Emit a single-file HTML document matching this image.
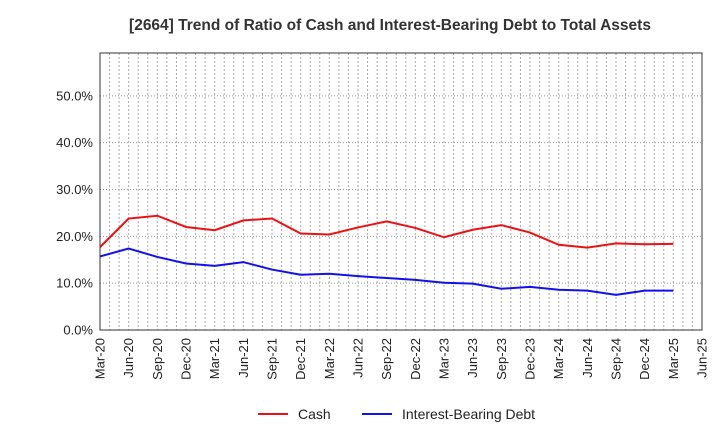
<!DOCTYPE html>
<html><head><meta charset="utf-8"><style>
body{margin:0;background:#fff;font-family:"Liberation Sans",sans-serif}
svg text{font-family:"Liberation Sans",sans-serif}
</style></head><body>
<svg width="720" height="440">
<text x="390" y="30" text-anchor="middle" font-size="15.5" font-weight="bold" fill="#333">[2664]  Trend of Ratio of Cash and Interest-Bearing Debt to Total Assets</text>
<g id="grid"></g><g id="axes"></g><g id="series"></g>
<g>
<line x1="258" y1="414" x2="288" y2="414" stroke="#ee1111" stroke-width="2"/>
<text x="298" y="419" font-size="14" fill="#222">Cash</text>
<line x1="362" y1="414" x2="392" y2="414" stroke="#1111ee" stroke-width="2"/>
<text x="402" y="419" font-size="14" fill="#222">Interest-Bearing Debt</text>
</g>
</svg>
<script>
const categories=["Mar-20","Jun-20","Sep-20","Dec-20","Mar-21","Jun-21","Sep-21","Dec-21","Mar-22","Jun-22","Sep-22","Dec-22","Mar-23","Jun-23","Sep-23","Dec-23","Mar-24","Jun-24","Sep-24","Dec-24","Mar-25","Jun-25"];
const cash=[17.7,23.8,24.4,22.0,21.3,23.4,23.8,20.6,20.4,21.9,23.2,21.8,19.8,21.4,22.4,20.8,18.2,17.6,18.5,18.3,18.4];
const debt=[15.7,17.4,15.6,14.2,13.7,14.5,12.9,11.8,12.0,11.5,11.1,10.7,10.1,9.9,8.8,9.2,8.6,8.4,7.5,8.4,8.4];
const yTicks=[0,10,20,30,40,50];
const L=100,R=702,T=49,B=330,YMAX=60,TOP=53;
const x=i=>L+(R-L)*i/(categories.length-1);
const y=v=>B-(B-T)*v/YMAX;
const NS="http://www.w3.org/2000/svg";
function mk(tag,attrs,parent){const e=document.createElementNS(NS,tag);for(const k in attrs)e.setAttribute(k,attrs[k]);document.getElementById(parent).appendChild(e);return e;}
const nMonths=(categories.length-1)*3;
for(let m=1;m<nMonths;m++){const gx=L+(R-L)*m/nMonths;
const g=mk('line',{x1:gx,x2:gx,y1:TOP,y2:B,stroke:'#aaa','stroke-dasharray':'2,2'},'grid');

}
for(let v=10;v<=50;v+=10){const g=mk('line',{x1:L,x2:R,y1:y(v),y2:y(v),stroke:'#999','stroke-dasharray':'1,2'},'grid');

}
const r=mk('rect',{x:L,y:TOP,width:R-L,height:B-TOP,fill:'none',stroke:'#333','stroke-width':1},'axes');


categories.forEach((c,i)=>{
  const t=mk('text',{x:0,y:0,'font-size':13,fill:'#222','text-anchor':'end',transform:`translate(${x(i)+4.5},${B+8}) rotate(-90)`},'axes');
  t.textContent=c;
  
  
});
yTicks.forEach(v=>{const t=mk('text',{x:L-7,y:y(v)+4.5,'font-size':13,fill:'#222','text-anchor':'end'},'axes');
t.textContent=v.toFixed(1)+'%';

});
function line(d,col,name){const p=mk('polyline',{points:d.map((v,i)=>x(i)+','+y(v)).join(' '),fill:'none',stroke:col,'stroke-width':2},'series');

}
line(cash,'#ee1111','cash-line');
line(debt,'#1111ee','debt-line');
</script>
</body></html>
